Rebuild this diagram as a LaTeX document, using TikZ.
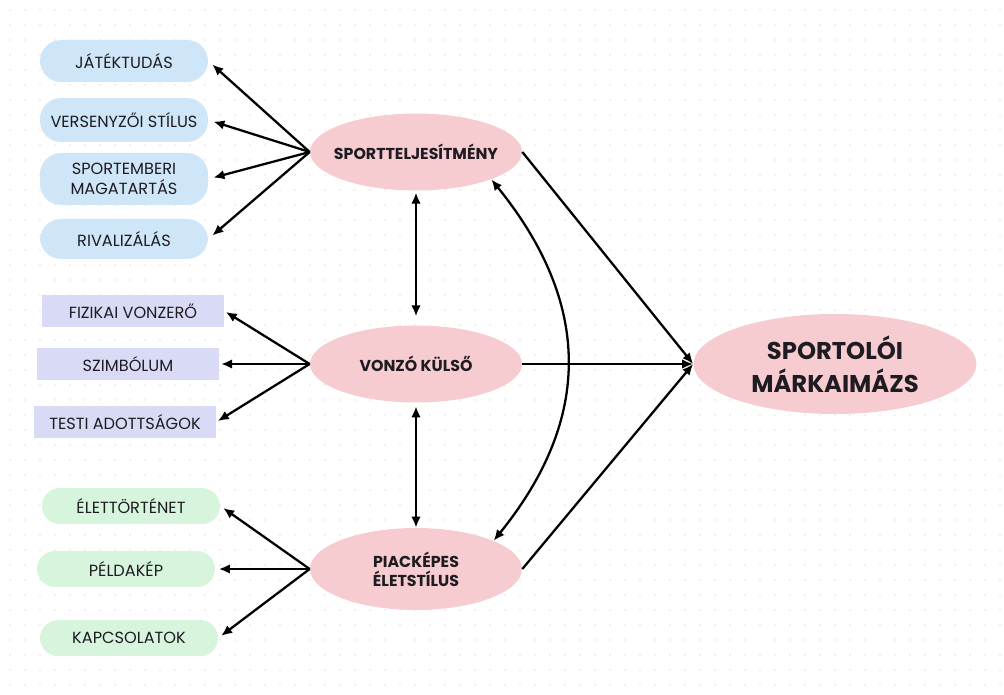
\documentclass[tikz,border=0pt]{standalone}
\usepackage{fontspec}
\setmainfont{Poppins}
\usetikzlibrary{shapes.geometric,arrows.meta}
\definecolor{kek}{RGB}{207,230,248}
\definecolor{lila}{RGB}{217,219,246}
\definecolor{zold}{RGB}{215,245,220}
\definecolor{rozsa}{RGB}{246,204,208}
\definecolor{szoveg}{RGB}{30,28,34}
\definecolor{pont}{RGB}{226,226,230}

\begin{document}
\begin{tikzpicture}[x=0.02cm, y=0.02cm,
  every node/.style={inner sep=0pt, text=szoveg, align=center},
  kekdoboz/.style={fill=kek, rounded corners=0.42cm, minimum width=3.36cm, minimum height=0.84cm, font=\fontsize{9.2}{11.4}\selectfont},
  liladoboz/.style={fill=lila, minimum width=3.64cm, minimum height=0.64cm, font=\fontsize{9.2}{11.4}\selectfont},
  zolddoboz/.style={fill=zold, rounded corners=0.36cm, minimum width=3.56cm, minimum height=0.72cm, font=\fontsize{9.2}{11.4}\selectfont},
  tenyezo/.style={ellipse, fill=rozsa, inner xsep=-0.2cm, minimum width=4.24cm, minimum height=1.54cm, font=\bfseries\fontsize{9}{10.8}\selectfont},
  nyil/.style={-{Latex[length=2.2mm,width=1.9mm]}, line width=1.3pt},
  kettos/.style={{Latex[length=2.2mm,width=1.9mm]}-{Latex[length=2.2mm,width=1.9mm]}, line width=1.3pt}]
\useasboundingbox (0,0) rectangle (1004,-695);
% pontracs a hatterben
\foreach \x in {10,25,...,1000}
  \foreach \y in {10,25,...,690}
    \fill [pont] (\x,-\y) circle (0.8);
% kozepso tenyezok
\node [tenyezo] (sport) at (416,-152) {SPORTTELJESÍTMÉNY};
\node [tenyezo] (vonzo) at (416,-364) {VONZÓ KÜLSŐ};
\node [tenyezo, minimum height=1.64cm] (piac) at (416,-569) {PIACKÉPES\\ÉLETSTÍLUS};
\node [tenyezo, inner xsep=0pt, minimum width=5.66cm, minimum height=2cm, font=\bfseries\fontsize{13.8}{18.7}\selectfont] (marka) at (835,-364) {SPORTOLÓI\\MÁRKAIMÁZS};
% sportteljesitmeny elemei
\node [kekdoboz] (jatek) at (124,-61) {JÁTÉKTUDÁS};
\node [kekdoboz, minimum height=0.88cm] (verseny) at (124,-120) {VERSENYZŐI STÍLUS};
\node [kekdoboz, minimum height=1.04cm] (magatart) at (124,-179) {SPORTEMBERI\\MAGATARTÁS};
\node [kekdoboz, minimum height=0.8cm] (rival) at (124,-239) {RIVALIZÁLÁS};
% vonzo kulso elemei
\node [liladoboz] (fizikai) at (133,-311) {FIZIKAI VONZERŐ};
\node [liladoboz] (szimbol) at (128,-364) {SZIMBÓLUM};
\node [liladoboz] (testi) at (125,-422) {TESTI ADOTTSÁGOK};
% eletstilus elemei
\node [zolddoboz] (elet) at (131,-506) {ÉLETTÖRTÉNET};
\node [zolddoboz] (pelda) at (126,-569) {PÉLDAKÉP};
\node [zolddoboz] (kapcs) at (129,-638) {KAPCSOLATOK};
% nyilak
\foreach \cel in {jatek,verseny,magatart,rival}
  \draw [nyil, shorten >=3pt] (sport.west) -- (\cel.east);
\foreach \cel in {fizikai,szimbol,testi}
  \draw [nyil, shorten >=1pt] (vonzo.west) -- (\cel.east);
\foreach \cel in {elet,pelda,kapcs}
  \draw [nyil, shorten >=2pt] (piac.west) -- (\cel.east);
\foreach \tenyezo in {sport,vonzo,piac}
  \draw [nyil] (\tenyezo.east) -- (marka.west);
\draw [kettos, shorten >=5pt, shorten <=1pt] (sport.south) -- (vonzo.north);
\draw [kettos, shorten <=2pt] (vonzo.south) -- (piac.north);
\draw [kettos] (sport.-20) to[out=-51, in=51, looseness=1.12] (piac.20);
\end{tikzpicture}
\end{document}
